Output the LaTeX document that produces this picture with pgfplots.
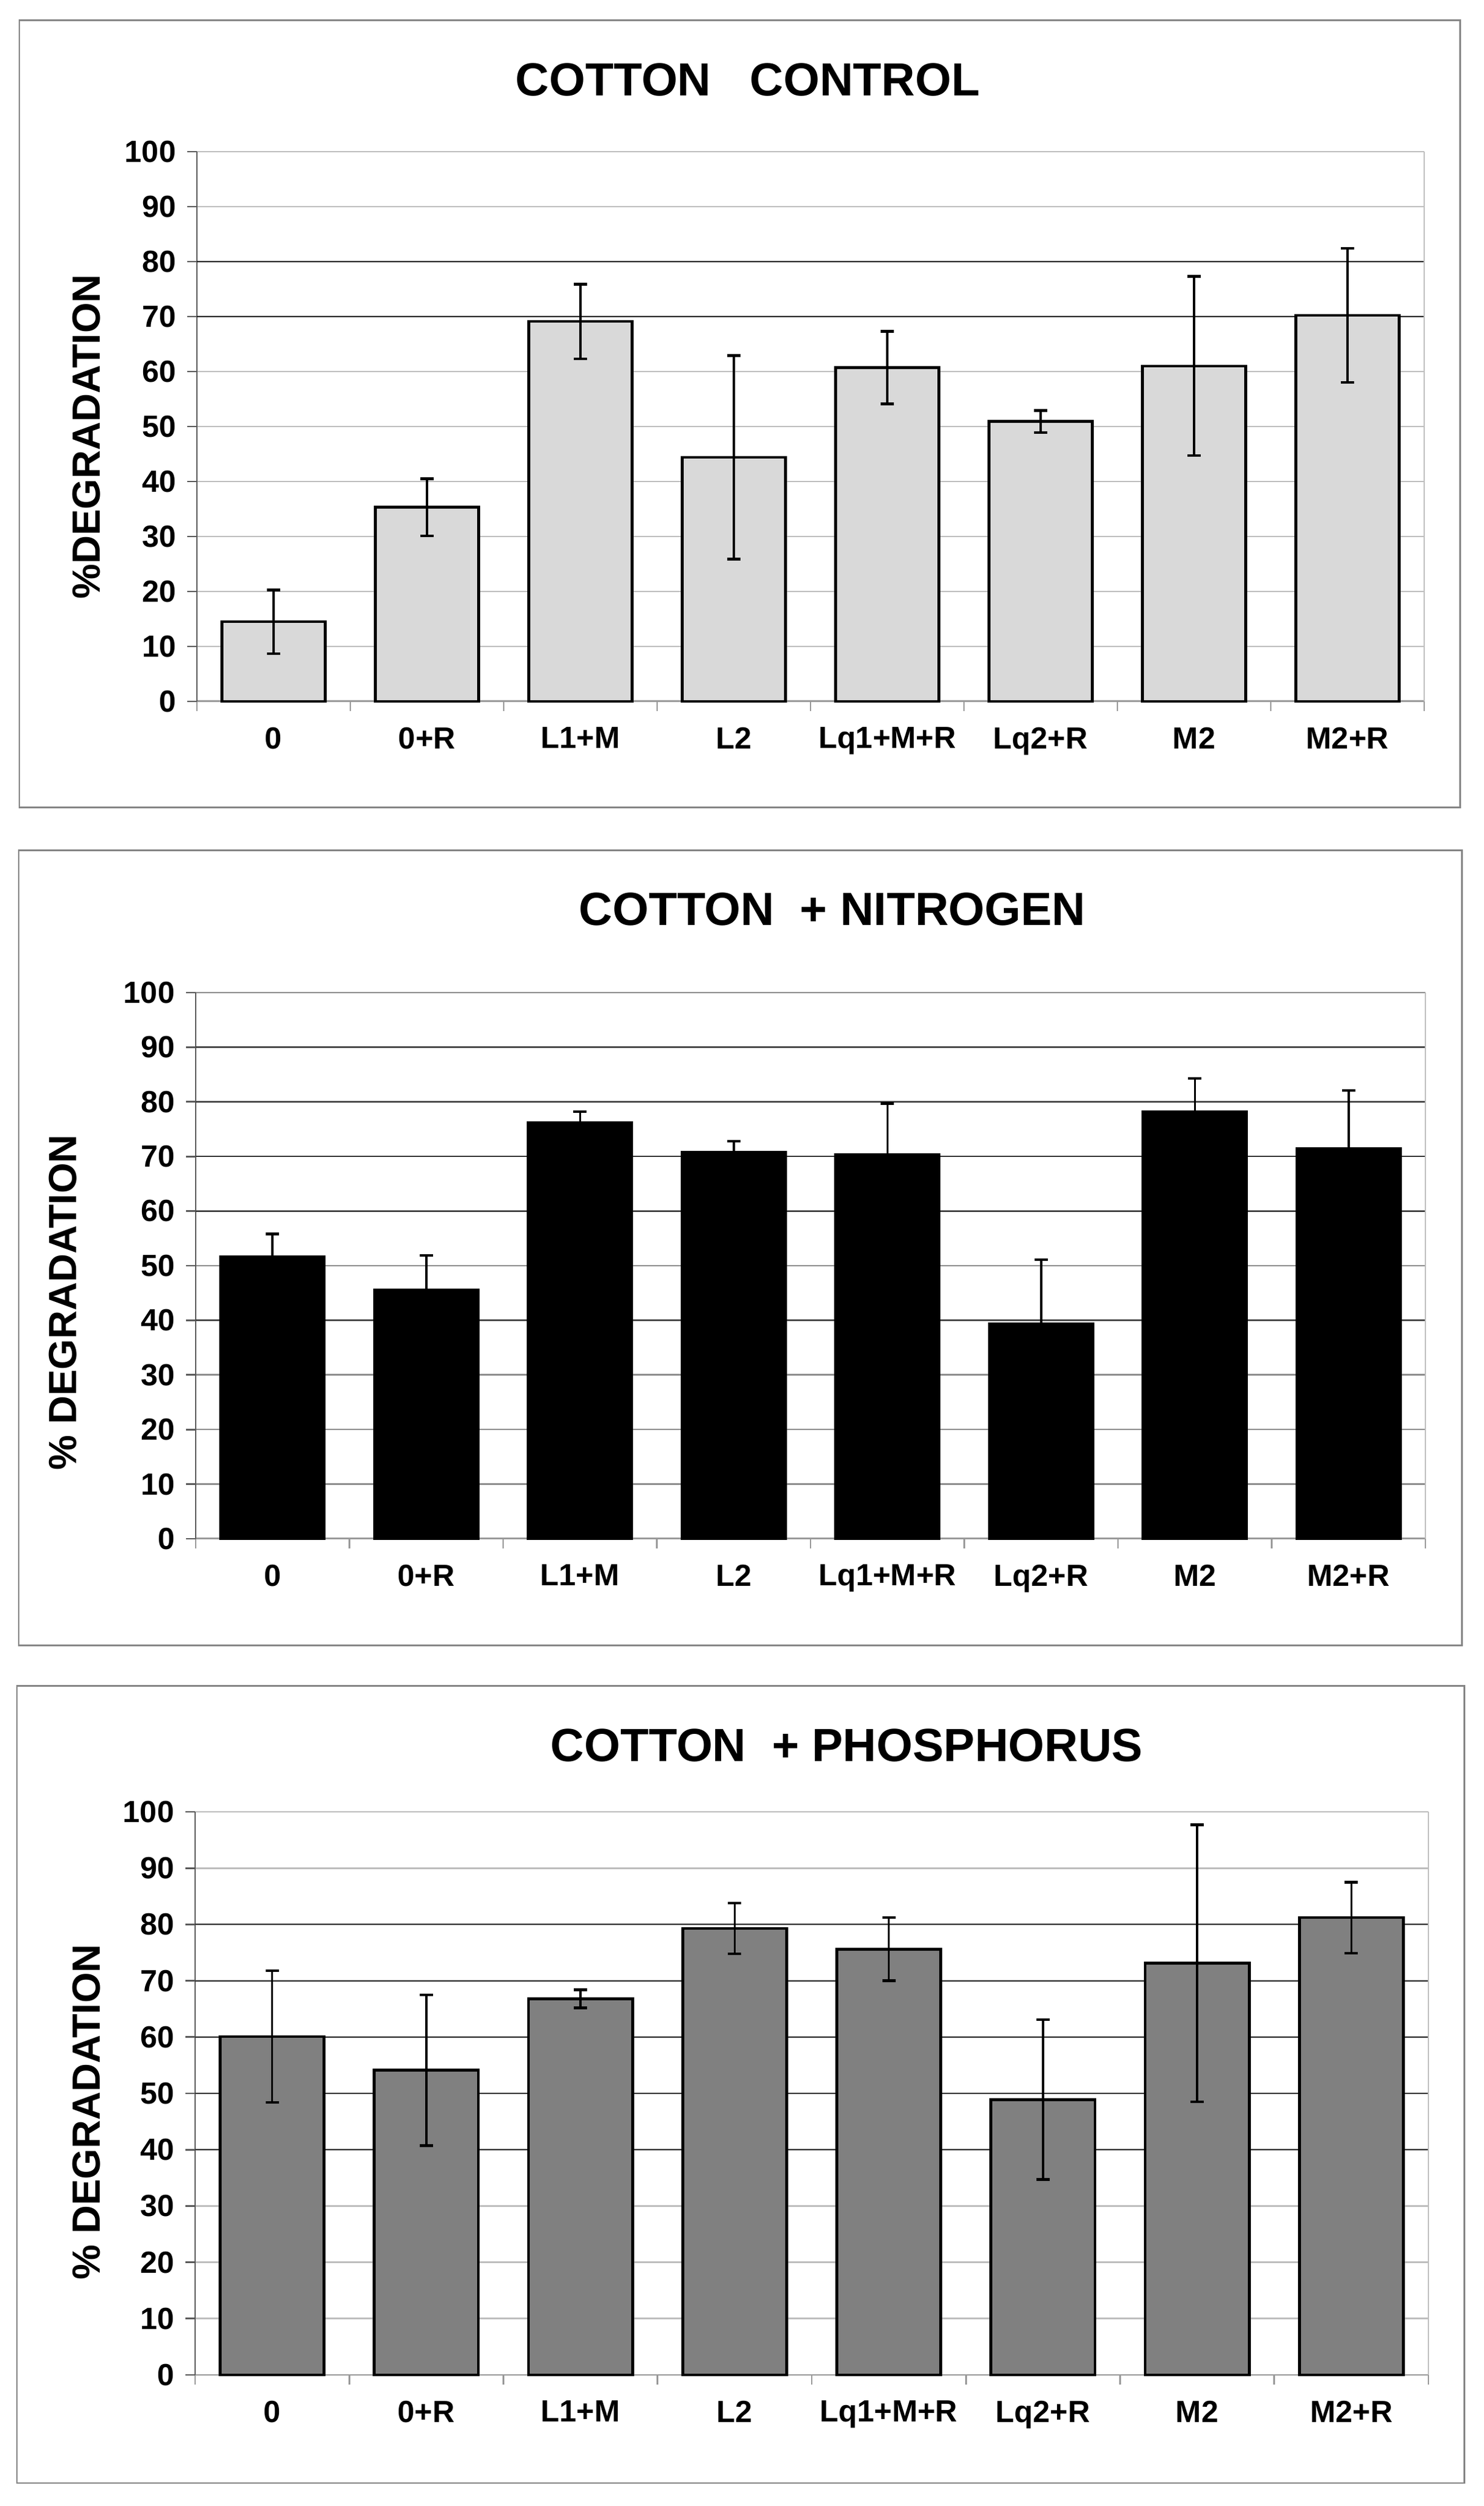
\documentclass[border=0pt]{standalone}
\usepackage{pgfplots}
\usepackage{pgfplotstable}
\pgfplotsset{compat=1.18}
\usepackage{fontspec}
\setmainfont{Liberation Sans}

\definecolor{barlight}{HTML}{D9D9D9}
\definecolor{bardark}{HTML}{808080}
\definecolor{gridlight}{HTML}{BDBDBD}
\definecolor{griddark}{HTML}{303030}
\definecolor{frame}{HTML}{858585}

\pgfplotstableread{
x y e
0 14.5 5.8
1 35.3 5.2
2 69.1 6.8
3 44.4 18.5
4 60.7 6.6
5 50.9 2.0
6 61.0 16.3
7 70.2 12.2
}\ctrl

\pgfplotstableread{
x y e
0 51.6 4.2
1 45.5 6.4
2 76.2 2.0
3 70.8 2.0
4 70.3 9.4
5 39.3 11.8
6 78.2 6.1
7 71.4 10.7
}\nitro

\pgfplotstableread{
x y e
0 60.1 11.7
1 54.1 13.4
2 66.8 1.6
3 79.3 4.5
4 75.6 5.6
5 48.9 14.2
6 73.1 24.6
7 81.2 6.3
}\phos

\newcommand{\tickfont}{\fontsize{14.4pt}{16pt}\selectfont\bfseries}
\newcommand{\labfont}{\fontsize{18.5pt}{20pt}\selectfont\bfseries}
\newcommand{\titfont}{\fontsize{21.9pt}{24pt}\selectfont\bfseries}

\pgfplotsset{
  panel/.style={
    scale only axis,
    anchor=south west,
    xmin=-0.5, xmax=7.5, ymin=0, ymax=100,
    axis x line=bottom, axis y line=left,
    x axis line style={-, draw=black!40, line width=0.85pt},
    y axis line style={-, draw=black!65, line width=0.85pt},
    tick align=outside,
    ytick={0,10,...,100},
    yticklabel style={font=\tickfont, anchor=east, inner sep=0pt, xshift=-1.8mm},
    /pgf/number format/assume math mode=true,
    ytick style={draw=black!65, line width=0.8pt},
    major tick length=1.6mm,
    xtick={-0.5,0.5,...,7.5},
    xticklabels={},
    xtick style={draw=black!40, line width=0.8pt},
    extra x ticks={0,1,...,7},
    extra x tick labels={0,0+R,L1+M,L2,Lq1+M+R,Lq2+R,M2,M2+R},
    extra x tick style={major tick length=0pt, tick style={draw=none},
      xticklabel style={font=\tickfont, anchor=north, inner sep=0pt, yshift=-4.2mm}},
    ymajorgrids,
    major grid style={draw=gridlight, line width=0.75pt},
    extra y tick labels={},
    ybar, bar width=0.675,
    clip=false,
    after end axis/.code={
      \draw[draw=black!25, line width=0.8pt] (rel axis cs:1,0) -- (rel axis cs:1,1);
    },
  },
  errs/.style={
    error bars/.cd, y dir=both, y explicit,
    error bar style={black, line width=1.0pt},
    error mark options={black, rotate=90, mark size=1.1mm, line width=1.3pt},
  },
}

\begin{document}
\begin{tikzpicture}
\useasboundingbox (0,0) rectangle (245.7mm,414.8mm);

% frames
\draw[frame, line width=0.85pt] (3.2mm,281.1mm) rectangle (241.7mm,411.4mm);
\draw[frame, line width=0.85pt] (3.1mm,142.4mm) rectangle (242.0mm,274.0mm);
\draw[frame, line width=0.85pt] (2.8mm,3.8mm) rectangle (242.4mm,135.7mm);

% titles
\node[anchor=base, inner sep=0pt, font=\titfont] at (123.8mm,398.9mm) {COTTON~~~CONTROL};
\node[anchor=base, inner sep=0pt, font=\titfont] at (137.8mm,261.6mm) {COTTON~~+ NITROGEN};
\node[anchor=base, inner sep=0pt, font=\titfont] at (140.2mm,123.2mm) {COTTON~~+ PHOSPHORUS};

% y labels
\node[anchor=base, rotate=90, inner sep=0pt, font=\labfont] at (16.5mm,342.5mm) {\%DEGRADATION};
\node[anchor=base, rotate=90, inner sep=0pt, font=\labfont] at (12.6mm,199.2mm) {\% DEGRADATION};
\node[anchor=base, rotate=90, inner sep=0pt, font=\labfont] at (16.5mm,65.2mm) {\% DEGRADATION};

% panel 1
\begin{axis}[panel, at={(32.6mm,298.7mm)}, width=203.2mm, height=91.0mm,
  extra y ticks={70,80},
  extra y tick style={major grid style={draw=black, line width=0.6pt}}]
\addplot[fill=barlight, draw=black, line width=1.3pt, errs] table[x=x, y=y, y error=e] {\ctrl};
\end{axis}

% panel 2
\begin{axis}[panel, at={(32.4mm,160.1mm)}, width=203.6mm, height=90.4mm,
  major grid style={draw=black!45, line width=0.75pt},
  extra y ticks={40,60,70,80,90},
  extra y tick style={major grid style={draw=griddark, line width=0.6pt}}]
\addplot[fill=black, draw=black, line width=1.3pt, errs] table[x=x, y=y, y error=e] {\nitro};
\end{axis}

% panel 3
\begin{axis}[panel, at={(32.3mm,21.7mm)}, width=204.2mm, height=93.2mm,
  extra y ticks={40,50,60,70,80},
  extra y tick style={major grid style={draw=griddark, line width=0.6pt}}]
\addplot[fill=bardark, draw=black, line width=1.3pt, errs] table[x=x, y=y, y error=e] {\phos};
\end{axis}
\end{tikzpicture}
\end{document}
